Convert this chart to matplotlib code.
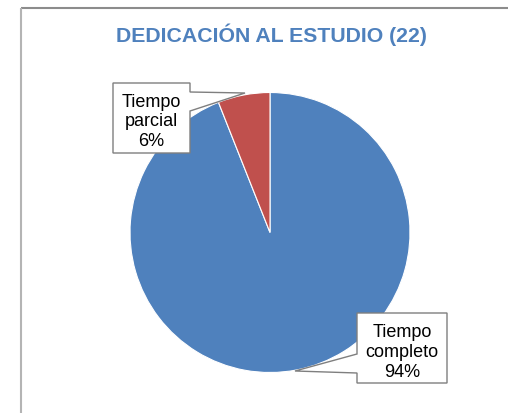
import matplotlib.pyplot as plt
import matplotlib.patches as patches

W, H = 508, 413

title = "DEDICACIÓN AL ESTUDIO (22)"
categories = ["Tiempo\ncompleto", "Tiempo\nparcial"]
percents = [94, 6]
colors = ["#4F81BD", "#C0504D"]


def py(y):
    # pixel row (top origin) -> data y
    return H - y


fig = plt.figure(figsize=(W / 100, H / 100), dpi=100)
ax = fig.add_axes([0, 0, 1, 1])
ax.set_xlim(0, W)
ax.set_ylim(0, H)
ax.set_aspect("equal")
ax.axis("off")

# chart frame (runs off the right and bottom of the image)
ax.plot([20.5, W + 5], [py(7.5), py(7.5)], color="#8c8c8c", linewidth=1.5,
        solid_capstyle="butt")
ax.plot([20.5, 20.5], [py(7.5), -5], color="#b4b4b4", linewidth=1.5,
        solid_capstyle="butt")

ax.text(271, py(35), title, ha="center", va="center", fontsize=15.3,
        fontweight="bold", color="#4F81BD", family="Liberation Sans")

ax.pie(percents, colors=colors, startangle=90, counterclock=False,
       center=(270, py(232.5)), radius=140,
       wedgeprops=dict(edgecolor="white", linewidth=0.8))
ax.set_xlim(0, W)
ax.set_ylim(0, H)

# callout boxes (pixel layout)
callouts = [
    [(113, 83), (190, 83), (190, 92), (245, 93), (190, 111), (190, 153), (113, 153)],
    [(357, 313), (447, 313), (447, 383), (357, 383), (357, 373), (295, 371), (357, 354)],
]
text_pos = [(151.5, 122), (402, 352.5)]

for idx, pts, (tx, ty) in zip([1, 0], callouts, text_pos):
    poly = patches.Polygon([(x, py(y)) for x, y in pts], closed=True,
                           facecolor="white", edgecolor="#7f7f7f", linewidth=1.0)
    ax.add_patch(poly)
    ax.text(tx, py(ty), f"{categories[idx]}\n{percents[idx]}%", ha="center",
            va="center", fontsize=13, family="Liberation Sans", linespacing=1.2,
            multialignment="center", color="black")

fig.savefig("out.png", dpi=100)
